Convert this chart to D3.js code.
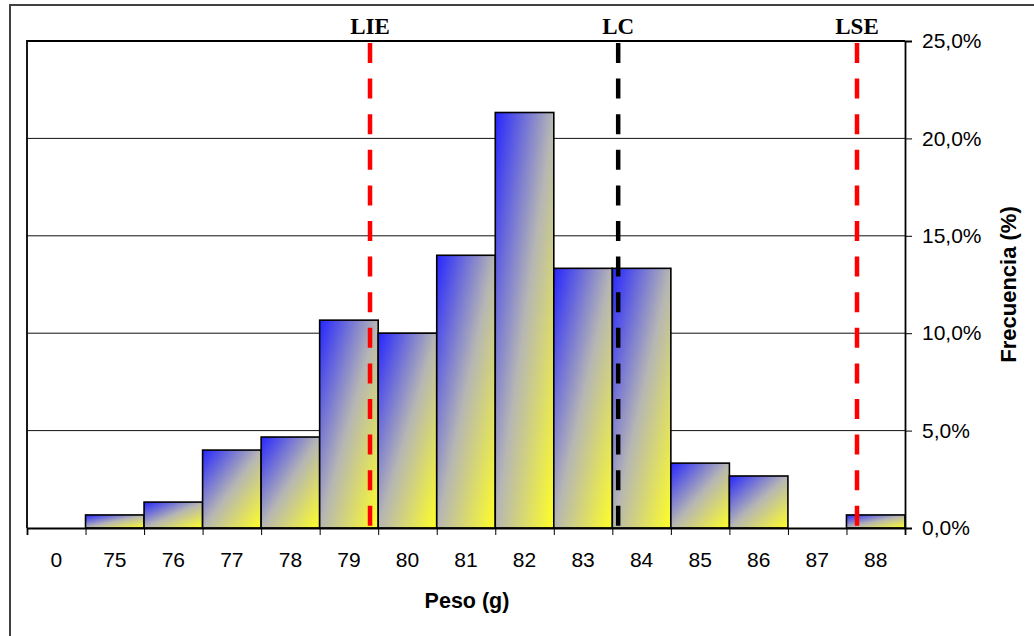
<!DOCTYPE html>
<html>
<head>
<meta charset="utf-8">
<script src="https://cdn.jsdelivr.net/npm/d3@7/dist/d3.min.js"></script>
<style>
  html, body { margin: 0; padding: 0; background: #fff; }
  svg { display: block; }
</style>
</head>
<body>
<svg id="chart" width="1034" height="636"></svg>
<script>
// Weight classes (g); "0" is the empty leading class
const categories = ["0", "75", "76", "77", "78", "79", "80", "81", "82", "83", "84", "85", "86", "87", "88"];
// Relative frequency of each class (%)
const frequency = [0, 0.67, 1.33, 4.0, 4.67, 10.67, 10.0, 14.0, 21.33, 13.33, 13.33, 3.33, 2.67, 0, 0.67];
// Right axis ticks (%)
const yTicks = [0, 5, 10, 15, 20, 25];
// Specification limits and centre line (g)
const limitNames = ["LIE", "LC", "LSE"];
const limitValues = [79.36, 83.6, 87.68];
const limitColors = ["#ff0000", "#000000", "#ff0000"];

const svg = d3.select("#chart");
const plot = { left: 27, right: 905, top: 41, bottom: 528 };

// Outer chart frame (continues past the right and bottom edges)
svg.append("rect")
  .attr("x", 10).attr("y", 5)
  .attr("width", 1040).attr("height", 650)
  .attr("fill", "none").attr("stroke", "#404040").attr("stroke-width", 2);

const x = d3.scaleBand().domain(categories).range([plot.left, plot.right]).padding(0);
// Continuous position along the weight axis: class "0" sits in the slot of 74
const xPos = d3.scaleLinear().domain([73.5, 88.5]).range([plot.left, plot.right]);
const y = d3.scaleLinear().domain([0, 25]).range([plot.bottom, plot.top]);

// Bar fill: diagonal blue-to-yellow gradient
const defs = svg.append("defs");
const grad = defs.append("linearGradient")
  .attr("id", "barFill")
  .attr("x1", 0).attr("y1", 0).attr("x2", 1).attr("y2", 1);
grad.append("stop").attr("offset", "0%").attr("stop-color", "#2626ff");
grad.append("stop").attr("offset", "50%").attr("stop-color", "#b6b6b4");
grad.append("stop").attr("offset", "100%").attr("stop-color", "#ffff26");

// Horizontal gridlines
svg.append("g")
  .selectAll("line")
  .data(yTicks.filter(d => d > 0 && d < 25))
  .join("line")
  .attr("x1", plot.left).attr("x2", plot.right)
  .attr("y1", d => y(d)).attr("y2", d => y(d))
  .attr("stroke", "#111").attr("stroke-width", 1);

// Bars
svg.append("g")
  .selectAll("rect")
  .data(categories.map((c, i) => ({ c, v: frequency[i] })).filter(d => d.v > 0))
  .join("rect")
  .attr("x", d => x(d.c))
  .attr("y", d => y(d.v))
  .attr("width", x.bandwidth())
  .attr("height", d => y(0) - y(d.v))
  .attr("fill", "url(#barFill)")
  .attr("stroke", "#000").attr("stroke-width", 1.6);

// Plot area border (top and left)
svg.append("path")
  .attr("d", `M${plot.left},${plot.bottom}V${plot.top}H${plot.right}`)
  .attr("fill", "none").attr("stroke", "#000").attr("stroke-width", 1.8);

// Reference lines
const limits = limitNames.map((n, i) => ({ n, v: limitValues[i], c: limitColors[i] }));
svg.append("g")
  .selectAll("line")
  .data(limits)
  .join("line")
  .attr("x1", d => xPos(d.v)).attr("x2", d => xPos(d.v))
  .attr("y1", plot.top + 2).attr("y2", plot.bottom)
  .attr("stroke", d => d.c).attr("stroke-width", 4.5)
  .attr("stroke-dasharray", "20,15.6");

svg.append("g")
  .selectAll("text")
  .data(limits)
  .join("text")
  .attr("x", d => xPos(d.v))
  .attr("y", 34)
  .attr("text-anchor", "middle")
  .attr("font-family", "'Liberation Serif', 'Times New Roman', serif")
  .attr("font-weight", "bold")
  .attr("font-size", 23)
  .attr("fill", "#000")
  .text(d => d.n);

// Right value axis
const yAxis = svg.append("g")
  .attr("transform", `translate(${plot.right},0)`)
  .call(d3.axisRight(y)
    .tickValues(yTicks)
    .tickSize(7)
    .tickPadding(10)
    .tickFormat(d => d3.format(".1f")(d).replace(".", ",") + "%"));
yAxis.select(".domain").attr("stroke", "#000").attr("stroke-width", 1.8);
yAxis.selectAll(".tick line").attr("stroke", "#000").attr("stroke-width", 1);
yAxis.selectAll(".tick text")
  .attr("font-family", "'Liberation Sans', Arial, sans-serif")
  .attr("font-size", 21).attr("fill", "#000");

// Bottom category axis: boundary ticks
const xTickAxis = svg.append("g")
  .attr("transform", `translate(0,${plot.bottom})`)
  .call(d3.axisBottom(xPos)
    .tickValues(d3.range(categories.length + 1).map(i => 73.5 + i))
    .tickSize(7)
    .tickFormat(""));
xTickAxis.select(".domain").attr("stroke", "#000").attr("stroke-width", 1.8);
xTickAxis.selectAll(".tick line").attr("stroke", "#000").attr("stroke-width", 1);

// Bottom category axis: labels centred in each class
const xLabelAxis = svg.append("g")
  .attr("transform", `translate(0,${plot.bottom})`)
  .call(d3.axisBottom(x).tickSize(0).tickPadding(24));
xLabelAxis.select(".domain").remove();
xLabelAxis.selectAll(".tick text")
  .attr("font-family", "'Liberation Sans', Arial, sans-serif")
  .attr("font-size", 21).attr("fill", "#000");

// Axis titles
svg.append("text")
  .attr("x", (plot.left + plot.right) / 2 + 1)
  .attr("y", 608)
  .attr("text-anchor", "middle")
  .attr("font-family", "'Liberation Sans', Arial, sans-serif")
  .attr("font-weight", "bold")
  .attr("font-size", 21.5)
  .attr("fill", "#000")
  .text("Peso (g)");

svg.append("text")
  .attr("transform", `translate(1016,${(plot.top + plot.bottom) / 2}) rotate(-90)`)
  .attr("text-anchor", "middle")
  .attr("font-family", "'Liberation Sans', Arial, sans-serif")
  .attr("font-weight", "bold")
  .attr("font-size", 22)
  .attr("fill", "#000")
  .text("Frecuencia (%)");
</script>
</body>
</html>
